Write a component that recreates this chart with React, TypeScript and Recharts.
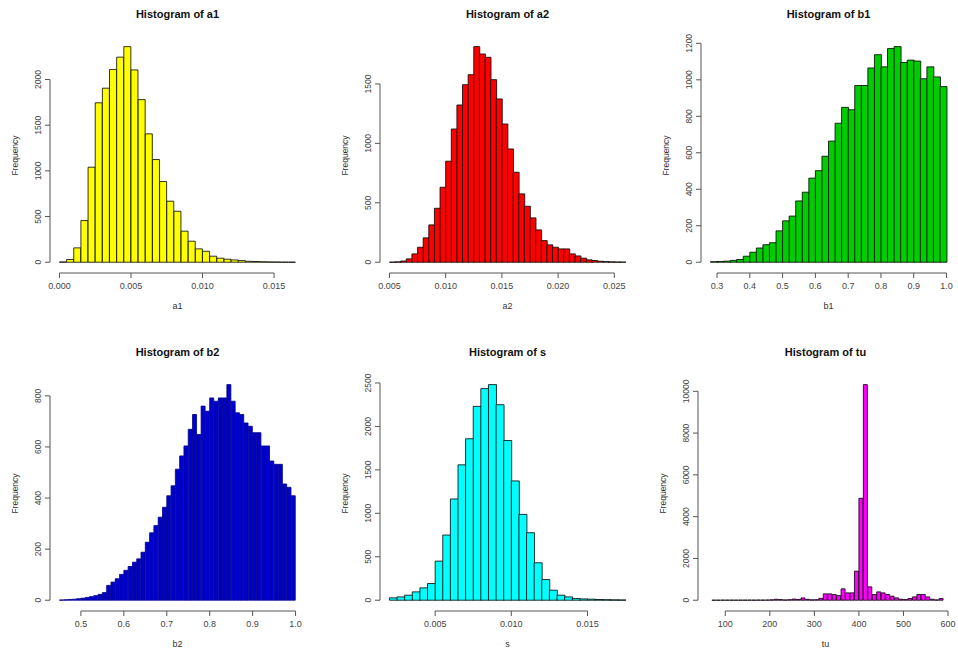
import React from 'react';
import { BarChart, Bar, XAxis, YAxis, ReferenceLine } from 'recharts';

const FONT = '"Liberation Sans", Arial, Helvetica, sans-serif';

// bin counts (start = first break, width = bin width)
const a1Start = 0;
const a1Width = 0.0005;
const a1Counts = [3, 30, 157, 456, 1040, 1745, 1905, 2110, 2245, 2360, 2105, 1780, 1405, 1124, 883, 668, 558, 340, 230, 146, 120, 66, 44, 33, 25, 18, 10, 8, 5, 3, 2, 1, 1];
const a1XTicks = [0, 0.005, 0.01, 0.015];
const a1YTicks = [0, 500, 1000, 1500, 2000];

const a2Start = 0.005;
const a2Width = 0.0005;
const a2Counts = [1, 3, 10, 28, 70, 126, 205, 314, 454, 631, 850, 1121, 1323, 1494, 1578, 1814, 1752, 1724, 1536, 1374, 1163, 953, 757, 575, 471, 373, 272, 182, 146, 126, 112, 112, 70, 53, 34, 20, 14, 8, 5, 3, 2, 1];
const a2XTicks = [0.005, 0.01, 0.015, 0.02, 0.025];
const a2YTicks = [0, 500, 1000, 1500];

const b1Start = 0.28;
const b1Width = 0.02;
const b1Counts = [3, 4, 6, 10, 15, 33, 55, 78, 96, 107, 172, 227, 253, 336, 384, 461, 502, 581, 664, 762, 849, 836, 969, 969, 1065, 1138, 1071, 1172, 1182, 1095, 1108, 1103, 1006, 1071, 1016, 963];
const b1XTicks = [0.3, 0.4, 0.5, 0.6, 0.7, 0.8, 0.9, 1.0];
const b1YTicks = [0, 200, 400, 600, 800, 1000, 1200];

const b2Start = 0.45;
const b2Width = 0.01;
const b2Counts = [1, 2, 3, 4, 6, 8, 11, 14, 18, 23, 30, 58, 71, 84, 101, 117, 132, 149, 162, 188, 227, 264, 292, 325, 364, 409, 448, 513, 565, 604, 669, 727, 649, 760, 740, 792, 779, 792, 792, 844, 779, 734, 727, 694, 681, 656, 656, 604, 604, 545, 532, 532, 455, 442, 409];
const b2XTicks = [0.5, 0.6, 0.7, 0.8, 0.9, 1.0];
const b2YTicks = [0, 200, 400, 600, 800];

const sStart = 0.002;
const sWidth = 0.0005;
const sCounts = [27, 38, 58, 96, 142, 192, 450, 750, 1165, 1558, 1858, 2231, 2435, 2481, 2250, 1838, 1373, 988, 777, 431, 238, 115, 58, 38, 19, 15, 12, 8, 6, 4, 3];
const sXTicks = [0.005, 0.01, 0.015];
const sYTicks = [0, 500, 1000, 1500, 2000, 2500];

const tuStart = 60;
const tuWidth = 10;
const tuCounts = [0, 2, 3, 5, 6, 5, 4, 6, 5, 8, 6, 10, 8, 12, 20, 45, 30, 15, 25, 55, 40, 110, 45, 20, 25, 90, 304, 304, 272, 224, 544, 352, 352, 1392, 4880, 10320, 640, 272, 400, 352, 272, 192, 112, 48, 32, 80, 160, 272, 272, 160, 48, 16, 80];
const tuXTicks = [100, 200, 300, 400, 500, 600];
const tuYTicks = [0, 2000, 4000, 6000, 8000, 10000];

const renderYTick = (p: any) => (
  <text
    x={p.x}
    y={p.y}
    transform={`rotate(-90, ${p.x}, ${p.y})`}
    textAnchor="middle"
    fontSize={8.5}
    fill="#444"
    fontFamily={FONT}
  >
    {p.payload.value}
  </text>
);

type HistProps = {
  title: string;
  xName: string;
  start: number;
  width: number;
  counts: number[];
  xTicks: number[];
  yTicks: number[];
  digits: number;
  fill: string;
  stroke: string;
  left: number;
  top: number;
};

function Hist({ title, xName, start, width, counts, xTicks, yTicks, digits, fill, stroke, left, top }: HistProps) {
  const data = counts.map((c, i) => ({ mid: start + width * (i + 0.5), count: c }));
  const lo = start;
  const hi = start + width * counts.length;
  const pad = (hi - lo) * 0.04;
  const xDomain = [lo - pad, hi + pad];
  const maxC = Math.max(...counts);
  const yDomain = [-maxC * 0.05, maxC * 1.04];

  return (
    <div style={{ position: 'absolute', left, top, width: 310, height: 333 }}>
      <div
        style={{
          position: 'absolute',
          left: 50,
          top: 8,
          width: 255,
          textAlign: 'center',
          font: `bold 11px ${FONT}`,
          color: '#111',
        }}
      >
        {title}
      </div>
      <BarChart
        width={310}
        height={333}
        data={data}
        margin={{ top: 38, right: 5, bottom: 0, left: 0 }}
        barCategoryGap={0}
        barGap={0}
      >
        <XAxis
          type="number"
          dataKey="mid"
          domain={xDomain}
          allowDataOverflow
          ticks={xTicks}
          interval={0}
          axisLine={false}
          tickSize={5}
          tickMargin={5}
          height={60}
          tick={{ fontSize: 9, fill: '#444', fontFamily: FONT }}
          tickLine={{ stroke: '#555' }}
          tickFormatter={(v: number) => v.toFixed(digits)}
          label={(p: any) => (
            <text
              x={p.viewBox.x + p.viewBox.width / 2}
              y={p.viewBox.y + 36}
              textAnchor="middle"
              fontSize={9}
              fill="#333"
              fontFamily={FONT}
            >
              {xName}
            </text>
          )}
        />
        <YAxis
          type="number"
          domain={yDomain}
          allowDataOverflow
          ticks={yTicks}
          interval={0}
          axisLine={false}
          tickSize={5}
          tickMargin={4}
          width={50}
          tick={renderYTick}
          tickLine={{ stroke: '#555' }}
          label={(p: any) => {
            const cx = p.viewBox.x + 18;
            const cy = p.viewBox.y + p.viewBox.height / 2;
            return (
              <text
                x={cx}
                y={cy}
                transform={`rotate(-90, ${cx}, ${cy})`}
                textAnchor="middle"
                fontSize={8.5}
                fill="#333"
                fontFamily={FONT}
              >
                Frequency
              </text>
            );
          }}
        />
        <ReferenceLine
          segment={[
            { x: xTicks[0], y: yDomain[0] },
            { x: xTicks[xTicks.length - 1], y: yDomain[0] },
          ]}
          stroke="#555"
          ifOverflow="visible"
        />
        <ReferenceLine
          segment={[
            { x: xDomain[0], y: yTicks[0] },
            { x: xDomain[0], y: yTicks[yTicks.length - 1] },
          ]}
          stroke="#555"
          ifOverflow="visible"
        />
        <Bar dataKey="count" fill={fill} stroke={stroke} strokeWidth={0.8} isAnimationActive={false} />
      </BarChart>
    </div>
  );
}

export default function App() {
  return (
    <div
      style={{
        position: 'absolute',
        left: 0,
        top: 0,
        width: 958,
        height: 651,
        background: '#fff',
        overflow: 'hidden',
      }}
    >
      <Hist title="Histogram of a1" xName="a1" start={a1Start} width={a1Width} counts={a1Counts} xTicks={a1XTicks} yTicks={a1YTicks} digits={3} fill="#FFFF00" stroke="#000" left={0} top={0} />
      <Hist title="Histogram of a2" xName="a2" start={a2Start} width={a2Width} counts={a2Counts} xTicks={a2XTicks} yTicks={a2YTicks} digits={3} fill="#FF0000" stroke="#000" left={330} top={0} />
      <Hist title="Histogram of b1" xName="b1" start={b1Start} width={b1Width} counts={b1Counts} xTicks={b1XTicks} yTicks={b1YTicks} digits={1} fill="#00CD00" stroke="#000" left={651} top={0} />
      <Hist title="Histogram of b2" xName="b2" start={b2Start} width={b2Width} counts={b2Counts} xTicks={b2XTicks} yTicks={b2YTicks} digits={1} fill="#0000CD" stroke="#00008B" left={0} top={337.5} />
      <Hist title="Histogram of s" xName="s" start={sStart} width={sWidth} counts={sCounts} xTicks={sXTicks} yTicks={sYTicks} digits={3} fill="#00FFFF" stroke="#000" left={330} top={337.5} />
      <Hist title="Histogram of tu" xName="tu" start={tuStart} width={tuWidth} counts={tuCounts} xTicks={tuXTicks} yTicks={tuYTicks} digits={0} fill="#FF00FF" stroke="#000" left={648} top={337.5} />
    </div>
  );
}
